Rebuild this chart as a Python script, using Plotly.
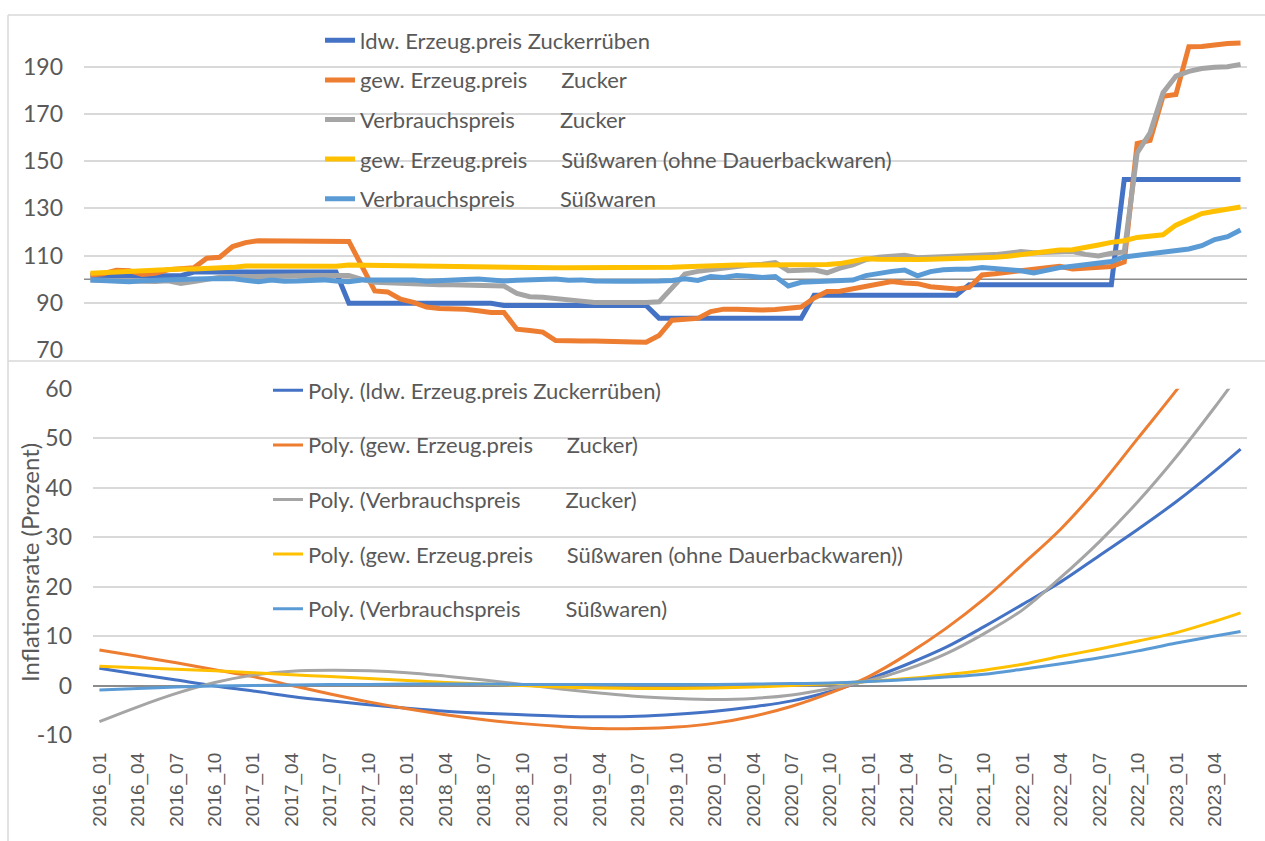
import plotly.graph_objects as go

# ---------------- data ----------------
months = [f"{y}_{m:02d}" for y in range(2016, 2024) for m in range(1, 13)][:90]
tick_labels = months[::3]

NB = "\u00a0"
top_names = [
    "ldw. Erzeug.preis Zuckerrüben",
    "gew. Erzeug.preis" + NB * 6 + "Zucker",
    "Verbrauchspreis" + NB * 8 + "Zucker",
    "gew. Erzeug.preis" + NB * 6 + "Süßwaren (ohne Dauerbackwaren)",
    "Verbrauchspreis" + NB * 8 + "Süßwaren",
]
colors = ["#4472C4", "#ED7D31", "#A5A5A5", "#FFC000", "#5B9BD5"]

top_ticks = [70, 90, 110, 130, 150, 170, 190]
bottom_ticks = [-10, 0, 10, 20, 30, 40, 50, 60]
bottom_tick_text = ["-10", "0", "10", "20", "30", "40", "50", "60"]

zuckerrueben = [
    101.5, 101.5, 101.5, 101.5, 101.5, 101.5, 101.5, 101.5,
    103.0, 103.0, 103.0, 103.0, 103.0, 103.0, 103.0, 103.0, 103.0, 103.0, 103.0, 103.0,
    89.8, 89.8, 89.8, 89.8, 89.8, 89.8, 89.8, 89.8, 89.8, 89.8, 89.8, 89.8,
    88.9, 88.9, 88.9, 88.9, 88.9, 88.9, 88.9, 88.9, 88.9, 88.9, 88.9, 88.9,
    83.5, 83.5, 83.5, 83.5, 83.5, 83.5, 83.5, 83.5, 83.5, 83.5, 83.5, 83.5,
    93.2, 93.2, 93.2, 93.2, 93.2, 93.2, 93.2, 93.2, 93.2, 93.2, 93.2, 93.2,
    97.6, 97.6, 97.6, 97.6, 97.6, 97.6, 97.6, 97.6, 97.6, 97.6, 97.6, 97.6,
    142.2, 142.2, 142.2, 142.2, 142.2, 142.2, 142.2, 142.2, 142.2, 142.2,
]
zucker_erz = [
    101.8, 102.3, 103.8, 103.6, 102.0, 102.5, 104.0, 104.6, 104.8, 108.9,
    109.3, 113.8, 115.5, 116.3, 116.3, 116.2, 116.2, 116.0, 116.0, 116.1,
    116.0, 105.5, 95.0, 94.6, 91.5, 90.2, 88.2, 87.6, 87.6, 87.3,
    86.6, 85.9, 85.9, 78.8, 78.3, 77.6, 74.0, 73.7, 73.8, 73.8,
    73.5, 73.7, 73.4, 73.3, 76.1, 82.6, 82.8, 83.4, 86.3, 87.3,
    87.3, 87.0, 86.9, 87.2, 87.6, 88.2, 92.0, 94.8, 94.9, 95.8,
    96.8, 97.8, 99.0, 98.4, 98.1, 96.8, 96.1, 95.8, 96.5, 101.8,
    102.3, 102.8, 103.4, 104.2, 104.9, 105.5, 104.3, 104.6, 104.9, 105.4,
    107.3, 157.5, 158.8, 177.5, 178.2, 198.5, 198.6, 199.3, 199.8, 200.0,
]
zucker_vpi = [
    99.7, 99.5, 99.3, 99.5, 99.2, 99.0, 99.3, 98.2, 99.0, 100.0,
    100.8, 101.0, 101.2, 101.2, 101.5, 101.3, 101.5, 101.6, 101.5, 101.3,
    101.6, 99.9, 98.7, 98.5, 98.2, 98.0, 97.7, 97.6, 97.6, 97.4,
    97.1, 97.1, 97.1, 94.0, 92.6, 92.3, 91.6, 91.2, 90.7, 90.1,
    90.0, 89.8, 90.1, 90.1, 90.4, 96.0, 102.2, 103.3, 104.0, 104.7,
    105.7, 106.0, 106.3, 107.0, 103.6, 103.8, 104.0, 102.7, 104.7, 106.1,
    108.3, 109.3, 109.6, 110.1, 109.1, 109.3, 109.5, 109.6, 109.8, 110.0,
    110.4, 111.0, 111.7, 111.2, 111.2, 111.2, 111.7, 110.5, 109.8, 111.0,
    111.5, 153.5, 162.0, 179.0, 186.0, 188.0, 189.2, 189.8, 190.0, 191.0,
]
suess_erz = [
    102.5, 102.8, 102.8, 103.0, 103.2, 103.5, 104.0, 104.3, 104.3, 104.5,
    104.5, 105.0, 105.6, 105.6, 105.5, 105.7, 105.5, 105.3, 105.3, 105.5,
    106.0, 105.9, 105.8, 105.7, 105.7, 105.6, 105.6, 105.5, 105.5, 105.4,
    105.4, 105.2, 105.0, 105.0, 104.9, 104.9, 104.8, 104.8, 104.8, 104.7,
    104.7, 104.6, 104.6, 104.6, 104.7, 105.0, 105.3, 105.6, 105.7, 105.8,
    106.0, 106.0, 106.0, 106.0, 106.0, 106.0, 106.0, 106.2, 106.6, 107.5,
    108.6, 108.4, 108.2, 108.2, 108.3, 108.4, 108.5, 108.7, 108.9, 109.0,
    109.3, 109.7, 110.5, 111.2, 112.0, 112.4, 112.5, 113.3, 114.5, 115.6,
    116.3, 117.7, 118.5, 118.8, 122.9, 125.3, 127.8, 128.8, 129.9, 130.6,
]
suess_vpi = [
    99.7, 99.5, 99.4, 98.9, 99.3, 99.6, 99.7, 100.0, 100.1, 100.2,
    100.2, 100.3, 99.5, 98.9, 99.6, 99.1, 99.2, 99.7, 99.7, 99.2,
    98.9, 99.6, 99.6, 99.6, 99.6, 99.7, 99.1, 99.5, 99.7, 99.9,
    100.1, 99.7, 99.2, 99.5, 99.7, 99.9, 100.1, 99.5, 99.7, 99.2,
    98.9, 99.1, 99.1, 98.9, 99.2, 99.4, 100.2, 99.5, 101.1, 100.7,
    101.6, 101.2, 100.7, 101.1, 97.1, 98.7, 98.9, 99.1, 99.1, 99.6,
    101.5, 102.6, 103.3, 103.9, 101.4, 103.2, 104.0, 104.2, 104.2, 104.9,
    104.6, 104.2, 103.6, 102.6, 103.8, 104.9, 105.5, 106.0, 106.6, 107.5,
    109.4, 110.1, 110.5, 111.0, 111.8, 112.8, 114.2, 116.8, 118.0, 120.8,
]

# Polynomial trend lines (inflation rate, %), read at every third month + last month
trend_months = months[0:88:3] + [months[89]]
poly_names = [
    "Poly. (ldw. Erzeug.preis Zuckerrüben)",
    "Poly. (gew. Erzeug.preis" + NB * 6 + "Zucker)",
    "Poly. (Verbrauchspreis" + NB * 8 + "Zucker)",
    "Poly. (gew. Erzeug.preis" + NB * 6 + "Süßwaren (ohne Dauerbackwaren))",
    "Poly. (Verbrauchspreis" + NB * 8 + "Süßwaren)",
]
poly_zuckerrueben = [3.5, 2.3, 1.1, -0.1, -1.1, -2.2, -3.1, -3.9, -4.6, -5.2, -5.6, -5.9, -6.2, -6.3, -6.2,
                     -5.8, -5.2, -4.3, -3.1, -1.2, 1.3, 4.3, 7.7, 11.9, 16.4, 21.0, 26.3, 31.6, 37.2, 43.4, 47.8]
poly_zucker_erz = [7.2, 5.9, 4.6, 3.2, 1.8, 0.0, -1.7, -3.3, -4.7, -5.9, -6.9, -7.7, -8.3, -8.7, -8.7,
                   -8.4, -7.6, -6.2, -4.2, -1.5, 1.8, 6.3, 11.5, 17.5, 24.5, 31.7, 40.3, 50.0, 59.7, 70.0, 77.0]
poly_zucker_vpi = [-7.3, -4.3, -1.6, 0.6, 2.1, 2.9, 3.1, 3.0, 2.6, 1.9, 1.1, 0.2, -0.7, -1.5, -2.2,
                   -2.6, -2.8, -2.6, -1.9, -0.6, 1.0, 3.3, 6.4, 10.5, 15.3, 21.9, 29.1, 37.2, 46.3, 56.3, 63.3]
poly_suess_erz = [3.9, 3.6, 3.3, 3.0, 2.6, 2.2, 1.8, 1.4, 1.0, 0.6, 0.3, 0.0, -0.3, -0.5, -0.6,
                  -0.6, -0.5, -0.3, 0.0, 0.4, 0.8, 1.4, 2.2, 3.1, 4.3, 5.9, 7.4, 9.0, 10.7, 13.0, 14.7]
poly_suess_vpi = [-0.9, -0.6, -0.3, -0.1, 0.0, 0.1, 0.2, 0.2, 0.3, 0.3, 0.3, 0.2, 0.2, 0.2, 0.2,
                  0.2, 0.2, 0.3, 0.4, 0.5, 0.8, 1.2, 1.7, 2.3, 3.3, 4.4, 5.6, 7.0, 8.6, 10.0, 10.9]

top_series = [zuckerrueben, zucker_erz, zucker_vpi, suess_erz, suess_vpi]
poly_series = [poly_zuckerrueben, poly_zucker_erz, poly_zucker_vpi, poly_suess_erz, poly_suess_vpi]

# ---------------- figure ----------------
W, H = 1265, 841
TXT = "#595959"
GRID = "#d9d9d9"
FONT = "Lato, sans-serif"


def px_x(p):
    return p / W


def px_y(p):
    return 1 - p / H


fig = go.Figure()
for k, (name, vals, col) in enumerate(zip(top_names, top_series, colors)):
    fig.add_trace(go.Scatter(
        x=months, y=vals, mode="lines", name=name,
        line=dict(color=col, width=5),
        xaxis="x", yaxis="y", legend="legend", legendgroup=f"top{k}",
        hoverinfo="skip",
    ))
for k, (name, vals, col) in enumerate(zip(poly_names, poly_series, colors)):
    fig.add_trace(go.Scatter(
        x=trend_months, y=vals, mode="lines", name=name,
        line=dict(color=col, width=3, shape="spline", smoothing=1.0),
        xaxis="x2", yaxis="y2", legend="legend2", legendgroup=f"bot{k}",
        hoverinfo="skip",
    ))

fig.update_layout(
    width=W, height=H,
    margin=dict(l=0, r=0, t=0, b=0, pad=0, autoexpand=False),
    paper_bgcolor="white", plot_bgcolor="rgba(0,0,0,0)",
    font=dict(family=FONT, color=TXT, size=22),
    xaxis=dict(
        domain=[px_x(84), px_x(1247)], anchor="y", automargin=False,
        type="category", categoryorder="array", categoryarray=months,
        range=[-0.5, 89.5], showticklabels=False, showgrid=False,
        ticks="", showline=False, zeroline=False,
    ),
    yaxis=dict(
        domain=[px_y(350), px_y(15)], anchor="x", automargin=False,
        range=[70, 211.9], tickvals=top_ticks,
        showgrid=True, gridcolor=GRID, gridwidth=1.5, zeroline=False, showline=False,
        ticks="", tickfont=dict(family=FONT, size=23, color=TXT), ticklabelstandoff=20,
    ),
    xaxis2=dict(
        domain=[px_x(93), px_x(1247)], anchor="y2", automargin=False,
        type="category", categoryorder="array", categoryarray=months,
        range=[-0.5, 89.5], tickmode="array", tickvals=tick_labels, ticktext=tick_labels,
        tickangle=-90, tickfont=dict(family="Liberation Sans, Arial, sans-serif", size=19, color=TXT),
        ticklabelstandoff=13, showgrid=False, ticks="", showline=False, zeroline=False,
    ),
    yaxis2=dict(
        domain=[px_y(735), px_y(388.7)], anchor="x2", automargin=False,
        range=[-10, 60], tickmode="array", tickvals=bottom_ticks, ticktext=bottom_tick_text,
        showgrid=True, gridcolor=GRID, gridwidth=1.5,
        zeroline=True, zerolinecolor="#8c8c8c", zerolinewidth=1.5, showline=False,
        ticks="", tickfont=dict(family=FONT, size=23, color=TXT), ticklabelstandoff=20,
    ),
    legend=dict(
        x=px_x(320), y=px_y(19.5), xanchor="left", yanchor="top",
        bgcolor="rgba(0,0,0,0)", borderwidth=0,
        font=dict(family=FONT, size=22, color=TXT),
        traceorder="grouped", tracegroupgap=8,
    ),
    legend2=dict(
        x=px_x(268), y=px_y(369.5), xanchor="left", yanchor="top",
        bgcolor="rgba(0,0,0,0)", borderwidth=0,
        font=dict(family=FONT, size=22, color=TXT),
        traceorder="grouped", tracegroupgap=23,
    ),
    showlegend=True,
    hovermode=False,
)

# y-axis title of the lower panel
fig.add_annotation(
    text="Inflationsrate (Prozent)", textangle=-90,
    xref="paper", yref="paper", x=px_x(29), y=px_y(563),
    xanchor="center", yanchor="middle", showarrow=False,
    font=dict(family=FONT, size=24, color=TXT),
)

# reference line at index 100 in the upper panel
fig.add_shape(type="line", xref="x domain", yref="y", x0=0, x1=1, y0=100, y1=100,
              line=dict(color="#8c8c8c", width=1.5), layer="below")

# chart frames (two stacked chart objects)
frame = dict(color=GRID, width=1.5)
fig.add_shape(type="line", xref="paper", yref="paper", x0=px_x(8), x1=1, y0=px_y(15), y1=px_y(15), line=frame)
fig.add_shape(type="line", xref="paper", yref="paper", x0=px_x(8), x1=1, y0=px_y(361), y1=px_y(361), line=frame)
fig.add_shape(type="line", xref="paper", yref="paper", x0=px_x(8), x1=px_x(8), y0=0, y1=px_y(15), line=frame)

fig.write_html("out.html", config={"displayModeBar": False},
               post_script="document.body.style.margin='0';")
